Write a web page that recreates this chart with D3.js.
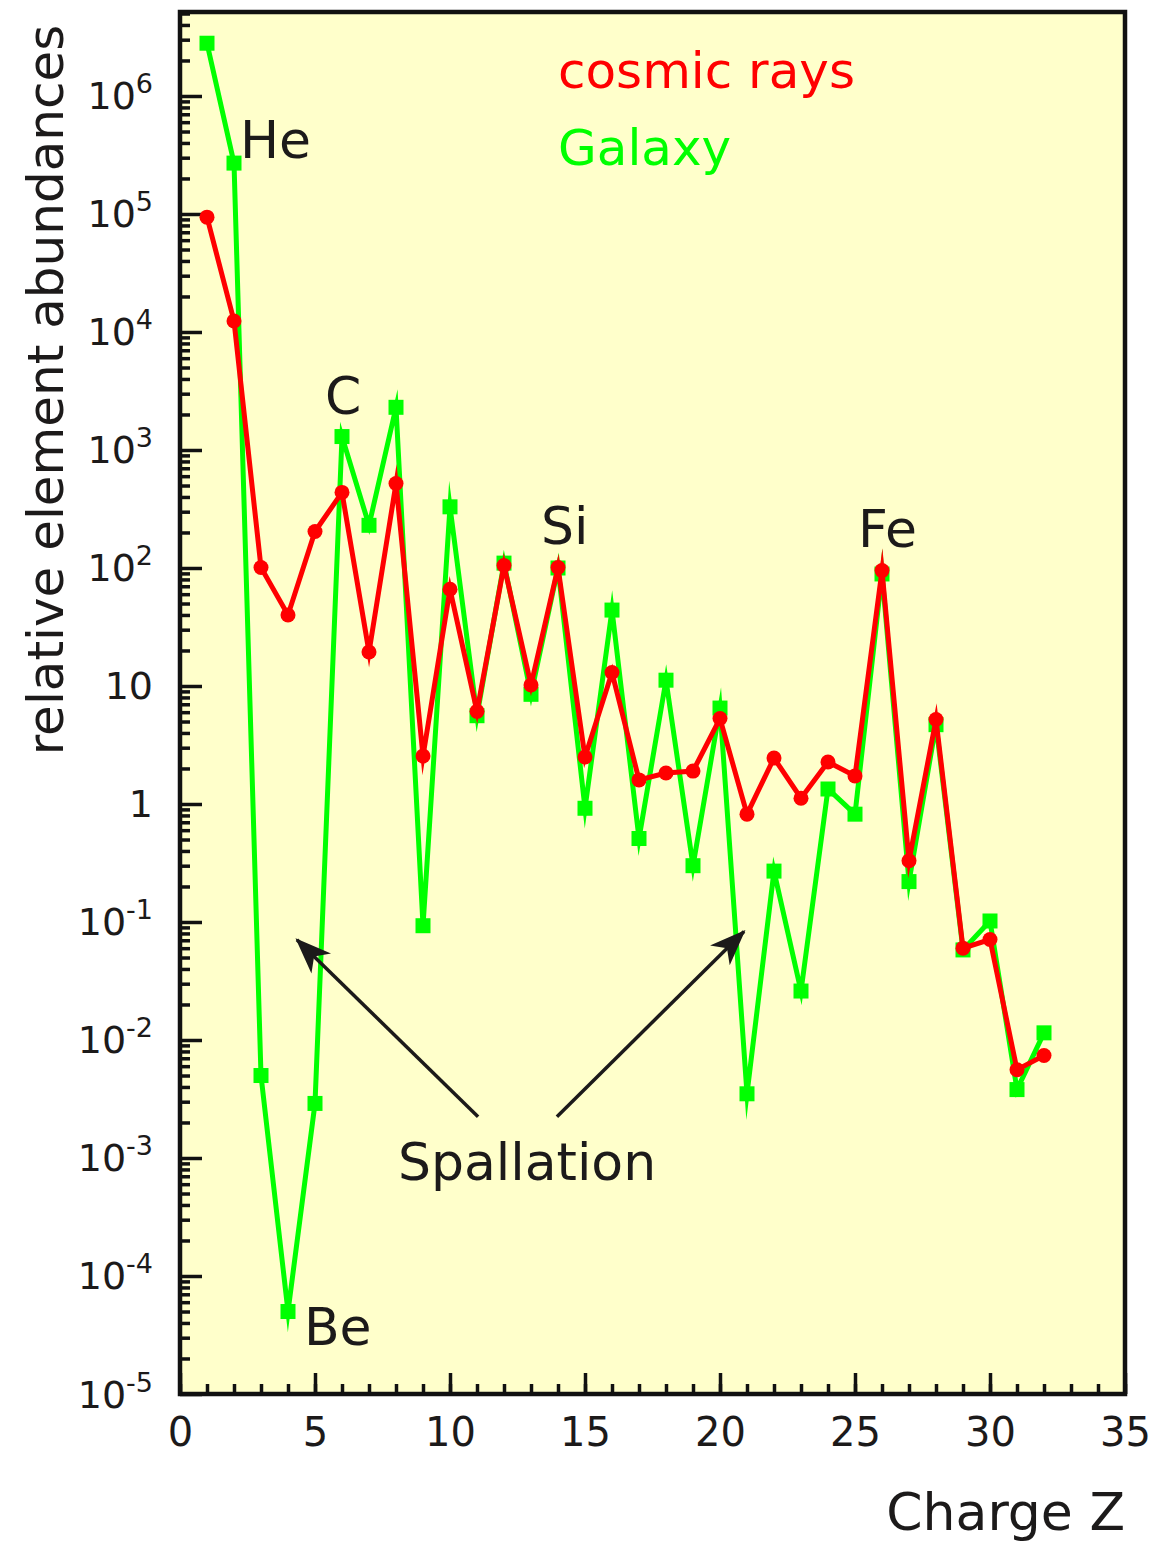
<!DOCTYPE html>
<html>
<head>
<meta charset="utf-8">
<script src="https://cdn.jsdelivr.net/npm/d3@7"></script>
<style>
  body { margin: 0; background: #ffffff; }
  svg { display: block; }
  text { font-family: "DejaVu Sans", "Liberation Sans", sans-serif; fill: #1c1a1a; }
</style>
</head>
<body>
<svg id="chart" width="1171" height="1544"></svg>
<script>
// Nuclear charge Z of each element, H (1) to Ge (32)
const charge = d3.range(1, 33);

// Relative abundances measured in cosmic rays (normalised, Si = 100)
const cosmicRays = [
  9.4e4, 1.24e4, 101, 40, 204, 437, 19.4, 520, 2.55, 66,
  6.1, 105, 10.2, 101, 2.5, 13, 1.6, 1.83, 1.9, 5.3,
  0.82, 2.45, 1.12, 2.27, 1.73, 95, 0.33, 5.2, 0.06, 0.071,
  5.6e-3, 7.4e-3
];

// Relative abundances in the Galaxy (solar system), same normalisation
const galaxy = [
  2.8e6, 2.7e5, 5.0e-3, 5.0e-5, 2.9e-3, 1.3e3, 230, 2.3e3, 0.093, 330,
  5.6, 110, 8.5, 100, 0.92, 44, 0.51, 11.2, 0.30, 6.5,
  3.5e-3, 0.27, 0.026, 1.34, 0.82, 89, 0.22, 4.7, 0.058, 0.102,
  3.8e-3, 0.0115
];

// Axis ticks
const xMajorTicks = [0, 5, 10, 15, 20, 25, 30, 35];
const yDecades = [-5, -4, -3, -2, -1, 0, 1, 2, 3, 4, 5, 6];

// Element labels placed next to their peaks/dips (data coordinates)
const elementLabels = [
  { text: "He", z: 2.22, v: 3.0e5 },
  { text: "C",  z: 5.37, v: 2.0e3 },
  { text: "Si", z: 13.37, v: 160 },
  { text: "Fe", z: 25.11, v: 150 },
  { text: "Be", z: 4.59, v: 2.6e-5 }
];

const svg = d3.select("#chart");
const frame = { left: 180, right: 1125, top: 12, bottom: 1394 };

const x = d3.scaleLinear().domain([0, 35]).range([frame.left, frame.right]);
const y = d3.scaleLog().domain([1e-5, 5.15e6]).range([frame.bottom, frame.top]);

// Plot background
svg.append("rect")
  .attr("x", frame.left).attr("y", frame.top)
  .attr("width", frame.right - frame.left).attr("height", frame.bottom - frame.top)
  .attr("fill", "#ffffcb");

const tickStyle = g => {
  g.select(".domain").remove();
  g.selectAll(".tick line").attr("stroke", "#111").attr("stroke-width", 3.5);
};

// X axis: minor ticks every unit, major ticks every 5, all pointing inward
svg.append("g")
  .attr("transform", `translate(0,${frame.bottom})`)
  .call(d3.axisBottom(x).tickValues(d3.range(0, 36)).tickSize(-10).tickFormat(""))
  .call(tickStyle);
const xMajor = svg.append("g")
  .attr("transform", `translate(0,${frame.bottom})`)
  .call(d3.axisBottom(x).tickValues(xMajorTicks).tickSize(-21).tickPadding(0).tickFormat(d3.format("d")))
  .call(tickStyle);
xMajor.selectAll(".tick text")
  .attr("y", 52).attr("dy", 0)
  .attr("font-size", 40)
  .style("font-family", "\"DejaVu Sans\", sans-serif")
  .attr("fill", "#1c1a1a");

// Y axis: log minor ticks (2..9 per decade) and decade ticks
const yMinor = [];
yDecades.forEach(e => { for (let k = 2; k <= 9; k++) { const v = k * Math.pow(10, e); if (v <= y.domain()[1]) yMinor.push(v); } });
svg.append("g")
  .attr("transform", `translate(${frame.left},0)`)
  .call(d3.axisLeft(y).tickValues(yMinor).tickSize(-10).tickFormat(""))
  .call(tickStyle);
const yMajor = svg.append("g")
  .attr("transform", `translate(${frame.left},0)`)
  .call(d3.axisLeft(y).tickValues(yDecades.map(e => Math.pow(10, e))).tickSize(-22).tickFormat(""))
  .call(tickStyle);

// Decade labels written as powers of ten
yMajor.selectAll(".tick").each(function(d) {
  const e = Math.round(Math.log10(d));
  const t = d3.select(this).append("text")
    .attr("x", -27).attr("y", 13)
    .attr("text-anchor", "end")
    .attr("font-size", 38)
    .attr("fill", "#1c1a1a");
  if (e === 0) { t.text("1"); }
  else if (e === 1) { t.text("10"); }
  else {
    t.append("tspan").text("10");
    t.append("tspan").attr("dy", -16).attr("font-size", 27).text(String(e).replace("-", "-"));
  }
});

// Frame
svg.append("rect")
  .attr("x", frame.left).attr("y", frame.top)
  .attr("width", frame.right - frame.left).attr("height", frame.bottom - frame.top)
  .attr("fill", "none").attr("stroke", "#111").attr("stroke-width", 4.5);

// Series
const line = d3.line().x((d, i) => x(charge[i])).y(d => y(d));
const plot = svg.append("g");

plot.append("path").datum(galaxy)
  .attr("d", line)
  .attr("fill", "none").attr("stroke", "#00ff00").attr("stroke-width", 5)
  .attr("stroke-linejoin", "miter").attr("stroke-miterlimit", 12);
plot.selectAll("rect.gal").data(galaxy).join("rect")
  .attr("class", "gal")
  .attr("x", (d, i) => x(charge[i]) - 7.5).attr("y", d => y(d) - 7.5)
  .attr("width", 15).attr("height", 15)
  .attr("fill", "#00ff00");

plot.append("path").datum(cosmicRays)
  .attr("d", line)
  .attr("fill", "none").attr("stroke", "#ff0000").attr("stroke-width", 5)
  .attr("stroke-linejoin", "miter").attr("stroke-miterlimit", 12);
plot.selectAll("circle.cr").data(cosmicRays).join("circle")
  .attr("class", "cr")
  .attr("cx", (d, i) => x(charge[i])).attr("cy", d => y(d))
  .attr("r", 7.5)
  .attr("fill", "#ff0000");

// Legend
svg.append("text").attr("x", x(14.0)).attr("y", y(1.17e6))
  .attr("font-size", 50).style("fill", "#ff0000").text("cosmic rays");
svg.append("text").attr("x", x(14.0)).attr("y", y(2.6e5))
  .attr("font-size", 50).style("fill", "#00ff00").text("Galaxy");

// Element labels
svg.selectAll("text.elem").data(elementLabels).join("text")
  .attr("class", "elem")
  .attr("x", d => x(d.z)).attr("y", d => y(d.v))
  .attr("font-size", 52)
  .text(d => d.text);

// Spallation note with arrows
svg.append("defs").append("marker")
  .attr("id", "head")
  .attr("markerUnits", "userSpaceOnUse")
  .attr("viewBox", "-36 -16 40 32")
  .attr("refX", 0).attr("refY", 0)
  .attr("markerWidth", 40).attr("markerHeight", 32)
  .attr("orient", "auto")
  .append("path")
  .attr("d", "M2,0 L-34,-14 L-24,0 L-34,14 Z")
  .attr("fill", "#1c1a1a");

const arrows = [
  { from: [11.04, Math.pow(10, -2.65)], to: [4.33, Math.pow(10, -1.15)] },
  { from: [13.96, Math.pow(10, -2.65)], to: [20.89, Math.pow(10, -1.08)] }
];
svg.selectAll("line.arrow").data(arrows).join("line")
  .attr("class", "arrow")
  .attr("x1", d => x(d.from[0])).attr("y1", d => y(d.from[1]))
  .attr("x2", d => x(d.to[0])).attr("y2", d => y(d.to[1]))
  .attr("stroke", "#1c1a1a").attr("stroke-width", 3.5)
  .attr("marker-end", "url(#head)");

svg.append("text").attr("x", x(8.07)).attr("y", y(6.5e-4))
  .attr("font-size", 52).text("Spallation");

// Axis titles
svg.append("text")
  .attr("x", frame.right).attr("y", 1530)
  .attr("text-anchor", "end").attr("font-size", 52)
  .text("Charge Z");
svg.append("text")
  .attr("transform", "translate(63,390) rotate(-90)")
  .attr("text-anchor", "middle").attr("font-size", 50)
  .text("relative element abundances");
</script>
</body>
</html>
